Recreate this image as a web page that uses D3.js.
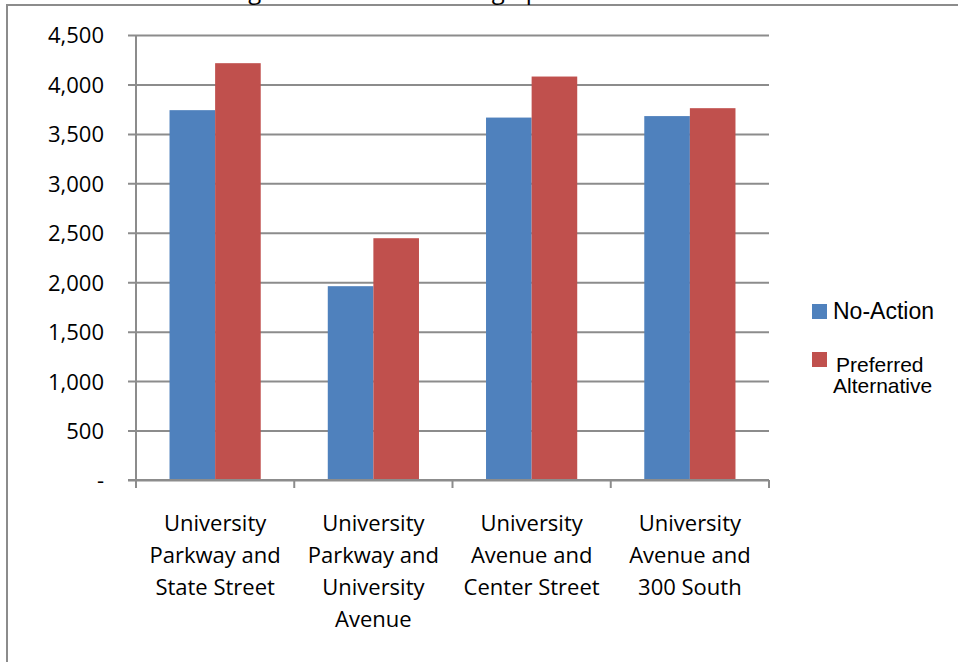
<!DOCTYPE html>
<html>
<head>
<meta charset="utf-8">
<script src="https://cdn.jsdelivr.net/npm/d3@7"></script>
<style>
  html, body { margin: 0; padding: 0; background: #fff; }
  svg { display: block; }
</style>
</head>
<body>
<svg id="chart" width="958" height="662"></svg>
<script>
// values
const categories = [
  ["University", "Parkway and", "State Street"],
  ["University", "Parkway and", "University", "Avenue"],
  ["University", "Avenue and", "Center Street"],
  ["University", "Avenue and", "300 South"]
];
const seriesNames = ["No-Action", "Preferred Alternative"];
const noAction = [3740, 1960, 3665, 3680];
const preferred = [4215, 2445, 4080, 3760];
const yTicks = [0, 500, 1000, 1500, 2000, 2500, 3000, 3500, 4000, 4500];
const colors = ["#4f81bd", "#c0504d"];

const svg = d3.select("#chart");
const width = 958, height = 662;

// outer frame (runs off to the right and bottom)
svg.append("path")
  .attr("d", `M7,${height + 5} V5 H${width + 5}`)
  .attr("fill", "none")
  .attr("stroke", "#8c8c8c")
  .attr("stroke-width", 2);

// title sits above the frame, only its lowest strokes show
svg.append("text")
  .attr("x", 510)
  .attr("y", -1)
  .attr("text-anchor", "middle")
  .attr("font-family", "Open Sans, sans-serif")
  .attr("font-size", 24)
  .attr("fill", "#000")
  .text("Figure 3-4. Traffic through peak hour intersections");

const x0 = 136, x1 = 769, yTop = 35, yBase = 480;

const x = d3.scaleBand()
  .domain(d3.range(categories.length))
  .range([x0, x1])
  .paddingInner(0)
  .paddingOuter(0);

const y = d3.scaleLinear().domain([0, 4500]).range([yBase, yTop]);

// gridlines + y ticks
const yAxis = d3.axisLeft(y)
  .tickValues(yTicks)
  .tickSize(-(x1 - x0))
  .tickFormat(d => d === 0 ? "-" : d3.format(",")(d));

const gy = svg.append("g")
  .attr("transform", `translate(${x0},0)`)
  .call(yAxis);
gy.select(".domain").remove();
gy.selectAll(".tick line")
  .attr("stroke", "#8c8c8c")
  .attr("stroke-width", 2)
  .attr("x2", -8)
  .attr("x1", x1 - x0);
gy.selectAll(".tick text")
  .attr("x", -32)
  .attr("dy", "0.36em")
  .attr("font-family", "Open Sans, sans-serif")
  .attr("font-size", 22)
  .attr("fill", "#000");

// y axis line
svg.append("line")
  .attr("x1", x0).attr("x2", x0)
  .attr("y1", yTop).attr("y2", yBase + 8)
  .attr("stroke", "#8c8c8c")
  .attr("stroke-width", 2);

// bars
const bw = 45.6;
const groups = svg.append("g").selectAll("g")
  .data(categories.map((c, i) => [noAction[i], preferred[i]]))
  .join("g")
  .attr("transform", (d, i) => `translate(${x(i) + x.bandwidth() / 2 - bw},0)`);

groups.selectAll("rect")
  .data(d => d)
  .join("rect")
  .attr("x", (d, j) => j * bw)
  .attr("y", d => y(d))
  .attr("width", bw)
  .attr("height", d => yBase - y(d))
  .attr("fill", (d, j) => colors[j]);

// x axis line and ticks
const xAxis = d3.axisBottom(x).tickSize(0).tickFormat("");
const gx = svg.append("g")
  .attr("transform", `translate(0,${yBase})`)
  .call(xAxis);
gx.select(".domain")
  .attr("d", `M${x0 - 8},0H${x1}`)
  .attr("stroke", "#8c8c8c")
  .attr("stroke-width", 2);

const tickXs = d3.range(categories.length + 1).map(i => i < categories.length ? x(i) : x1);
svg.append("g").selectAll("line")
  .data(tickXs)
  .join("line")
  .attr("x1", d => d).attr("x2", d => d)
  .attr("y1", yBase).attr("y2", yBase + 8)
  .attr("stroke", "#8c8c8c")
  .attr("stroke-width", 2);

// category labels
const lab = svg.append("g").selectAll("text")
  .data(categories)
  .join("text")
  .attr("x", (d, i) => x(i) + x.bandwidth() / 2)
  .attr("text-anchor", "middle")
  .attr("font-family", "Open Sans, sans-serif")
  .attr("font-size", 22)
  .attr("fill", "#000");
lab.each(function(d, i) {
  d3.select(this).selectAll("tspan")
    .data(d)
    .join("tspan")
    .attr("x", x(i) + x.bandwidth() / 2)
    .attr("y", (t, k) => 531 + k * 32)
    .text(t => t);
});

// legend
const legend = svg.append("g").attr("font-family", "Liberation Sans, Arial, sans-serif");
legend.append("rect").attr("x", 812).attr("y", 304).attr("width", 15).attr("height", 15).attr("fill", colors[0]);
legend.append("text").attr("x", 833).attr("y", 319).attr("font-size", 23).text(seriesNames[0]);
legend.append("rect").attr("x", 812).attr("y", 352).attr("width", 15).attr("height", 15).attr("fill", colors[1]);
const lt = legend.append("text").attr("font-size", 21);
lt.append("tspan").attr("x", 836).attr("y", 372).text("Preferred");
lt.append("tspan").attr("x", 833).attr("y", 393).text("Alternative");
</script>
</body>
</html>
